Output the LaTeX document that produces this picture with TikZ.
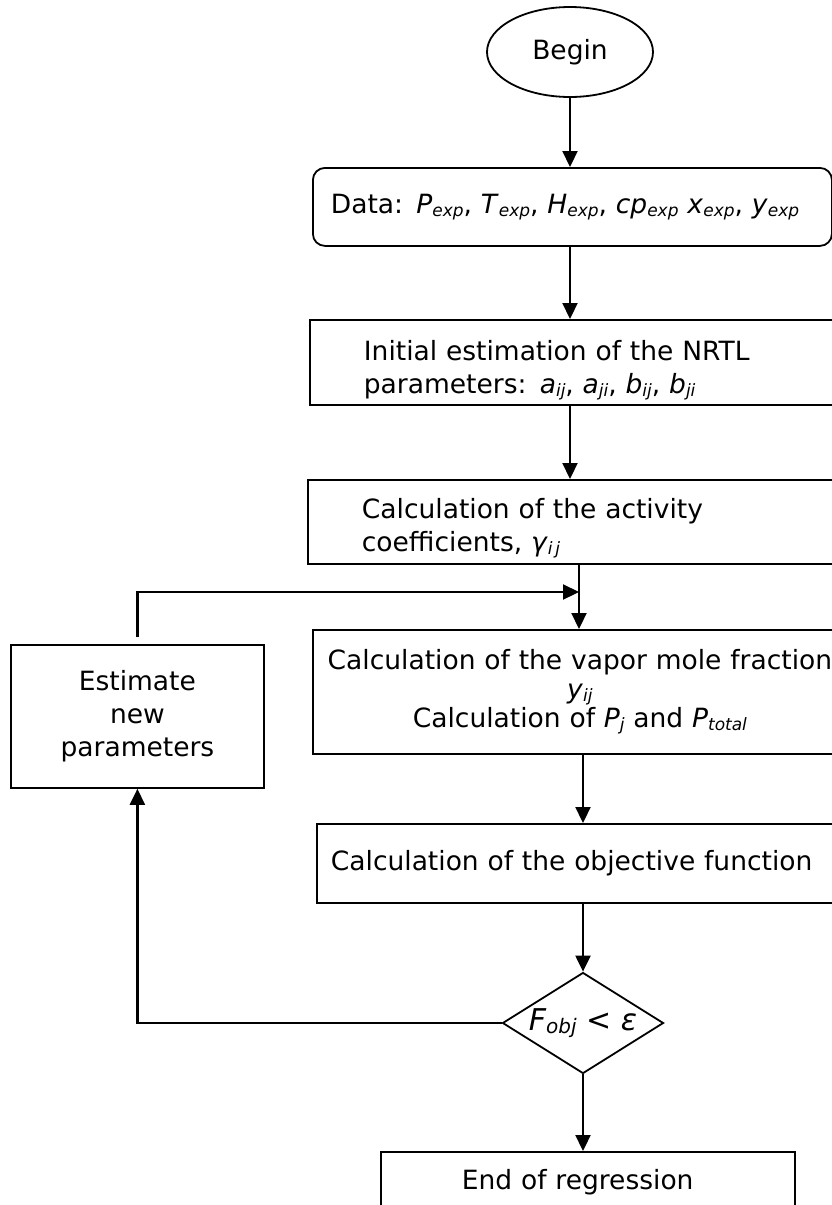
\documentclass[tikz,border=0pt]{standalone}
\usepackage{fontspec}
\setmainfont{DejaVu Sans}
\usetikzlibrary{shapes.geometric,arrows.meta}
\newcommand{\lo}[2][17]{\raisebox{-3pt}{\fontsize{#1}{#1}\selectfont\itshape #2}}
\begin{document}
\begin{tikzpicture}[x=1pt,y=-1pt,>={Triangle[length=16pt,width=15pt]},
    every node/.style={font=\fontsize{26.5}{33}\selectfont},
    box/.style={draw,line width=1.8pt,anchor=north west,align=left,inner ysep=0pt},
    flow/.style={->,line width=2.2pt}]
\useasboundingbox (0,0) rectangle (832,1205);

\node[draw,ellipse,line width=1.8pt,minimum width=166pt,minimum height=90pt,inner sep=0pt] (begin) at (570,52) {Begin};
\node[box,rounded corners=12pt,minimum height=78pt,text width=483pt,inner xsep=18pt] (data) at (312,167)
    {\mbox{Data: \textit{P}\lo{exp}, \textit{T}\lo{exp}, \textit{H}\lo{exp}, \textit{cp}\lo{exp} \textit{x}\lo{exp}, \textit{y}\lo{exp}}};
\node[box,minimum height=85pt,text width=450pt,inner xsep=54pt,text height=36pt,text depth=40pt] (init) at (309,319)
    {Initial estimation of the NRTL\\parameters: \textit{a}\lo{ij}, \textit{a}\lo{ji}, \textit{b}\lo{ij}, \textit{b}\lo{ji}};
\node[box,minimum height=84pt,text width=450pt,inner xsep=54pt,text height=35pt,text depth=41pt] (act) at (307,479)
    {Calculation of the activity\\coefficients, \textit{γ}\lo{i\,j}};
\node[box,align=center,minimum height=124pt,text width=520pt,inner xsep=7pt,
    font=\fontsize{26.5}{29}\selectfont] (vapor) at (312,629)
    {Calculation of the vapor mole fraction\\\textit{y}\lo{ij}\\Calculation of \textit{P}\lo{j} and \textit{P}\lo{total}};
\node[box,align=center,minimum height=143pt,text width=233pt,inner xsep=10pt] (est) at (10,644)
    {Estimate\\new\\parameters};
\node[box,minimum height=79pt,text width=520pt,inner xsep=14pt] (obj) at (316,823)
    {Calculation of the objective function};
\node[draw,diamond,line width=1.8pt,aspect=1.6,inner sep=0pt,minimum width=161pt,minimum height=101pt,
    font=\fontsize{30}{30}\selectfont\itshape] (dec) at (583,1023) {F\lo[20]{obj} < ε};
\node[box,minimum height=60pt,text width=252pt,inner xsep=81pt] (end) at (380,1151)
    {End of regression};
\coordinate (merge) at (579,592);

\draw[flow] (begin.south) -- (begin.south |- data.north);
\draw[flow] (data.south -| begin) -- (init.north -| begin);
\draw[flow] (init.south -| begin) -- (act.north -| begin);
\draw[flow] (act.south -| merge) -- (vapor.north -| merge);
\draw[flow,shorten <=7pt] (est.north) |- (merge);
\draw[flow] (vapor.south -| dec) -- (obj.north -| dec);
\draw[flow] (obj.south -| dec) -- (dec.north);
\draw[flow] (dec.west) -| (est.south);
\draw[flow] (dec.south) -- (end.north -| dec);
\end{tikzpicture}
\end{document}
